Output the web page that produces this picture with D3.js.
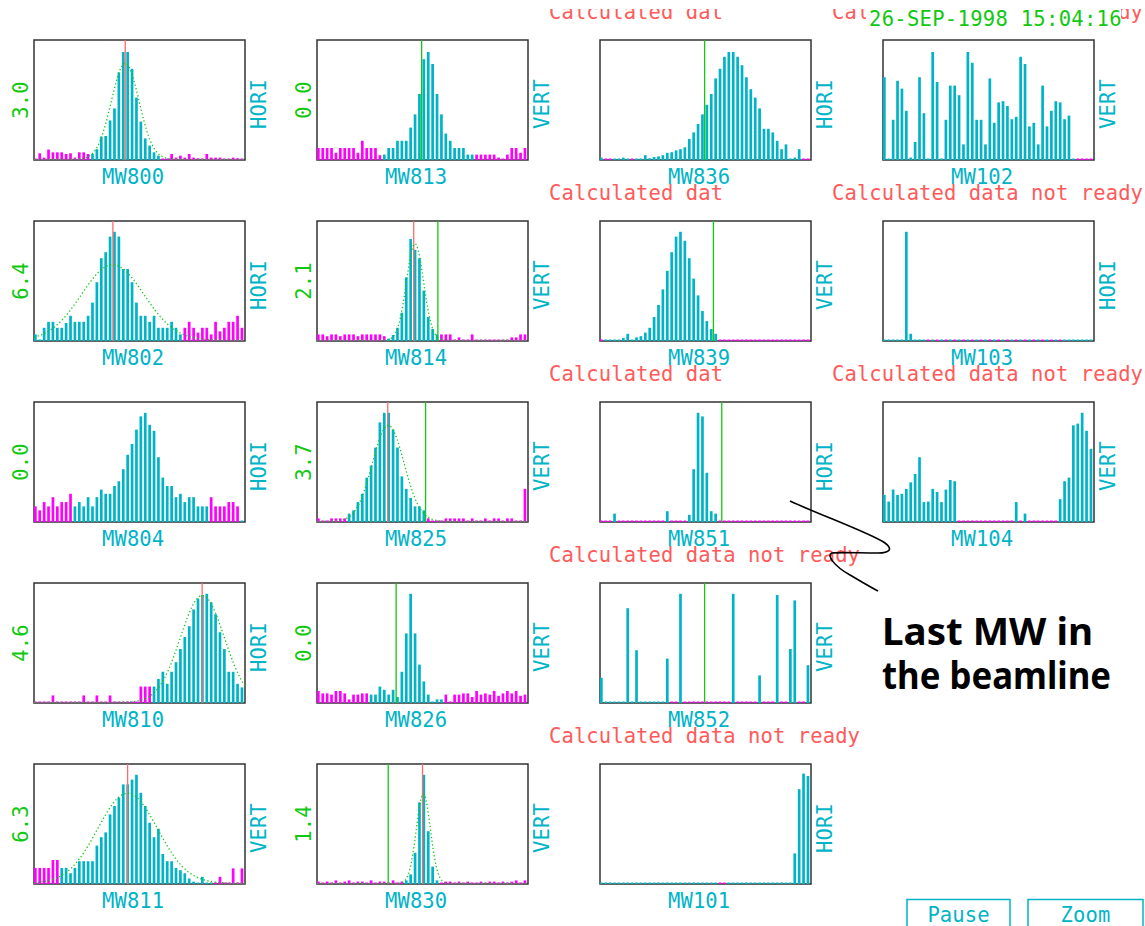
<!DOCTYPE html>
<html>
<head>
<meta charset="utf-8">
<script src="https://cdnjs.cloudflare.com/ajax/libs/d3/7.8.5/d3.min.js"></script>
<style>
  body { margin: 0; background: #fff; }
  svg { display: block; }
  text { font-family: "DejaVu Sans Mono", "Liberation Mono", monospace; font-size: 20.5px; letter-spacing: 0.1px; }
</style>
</head>
<body>
<script>
/* global d3 */
// panels, column by column (5 rows per column)
var names = ["MW800", "MW802", "MW804", "MW810", "MW811",
  "MW813", "MW814", "MW825", "MW826", "MW830",
  "MW836", "MW839", "MW851", "MW852", "MW101",
  "MW102", "MW103", "MW104"];
var planes = ["HORI", "HORI", "HORI", "HORI", "VERT",
  "VERT", "VERT", "VERT", "VERT", "VERT",
  "HORI", "VERT", "HORI", "VERT", "HORI",
  "VERT", "HORI", "VERT"];
var sigmaLabels = ["3.0", "6.4", "0.0", "4.6", "6.3",
  "0.0", "2.1", "3.7", "0.0", "1.4",
  null, null, null, null, null, null, null, null];
var notes = [null, null, null, null, null, null, null, null, null, null,
  "Calculated dat", "Calculated dat", "Calculated dat",
  "Calculated data not ready", "Calculated data not ready",
  "Calculated data not ready", "Calculated data not ready", "Calculated data not ready"];

// wire signals, 48 wires, % of full scale
var mw800 = [0, 5.6, 2, 8.7, 6.4, 6.4, 6.4, 5, 5.6, 2, 6.4, 6.4, 5, 5, 9, 19.5,
  20, 33, 43, 73, 90, 90, 76, 52, 32, 18, 12, 6.4, 3.6, 1, 0, 5,
  2, 3.6, 2, 5, 2, 1.5, 1, 5, 2, 2, 2, 1, 1, 2, 1.5, 1];
var mw802 = [5.5, 0, 11, 16, 16, 11, 11, 15, 21, 16, 16, 16, 21, 32, 49, 69,
  74, 87, 91, 87, 60, 60, 49, 32, 21, 21, 16, 21, 11, 11, 11, 16,
  11, 5.5, 11, 16, 11, 7, 11, 11, 5.5, 16, 8, 11, 16, 16, 21, 11];
var mw804 = [13, 9.7, 16.6, 13, 20.7, 13, 16.6, 16.6, 23.5, 13, 16.6, 13, 20.7, 13, 20.7, 27,
  23.5, 23.5, 30, 34, 44, 56, 65, 77, 88, 91, 81, 76, 54, 37, 30, 30,
  20.7, 23.5, 16.6, 20.7, 20.7, 13, 13, 13, 20.7, 13, 13, 13, 16.6, 16.6, 13, 1];
var mw810 = [0, 0, 0, 0, 6.3, 0, 0, 0, 0, 0, 0, 6.3, 0, 0, 6.3, 0,
  0, 6.3, 0, 0, 0, 0, 0, 0, 13.7, 13.7, 13.7, 13.7, 20, 26, 16, 26,
  34, 45, 55, 64, 78, 87, 90, 91, 84, 74, 59, 45, 26, 26, 16, 13];
var mw811 = [13.4, 13.4, 13.4, 13.4, 20, 20, 13.4, 13.4, 9, 13.4, 19, 19, 19, 19, 32, 39,
  43, 58, 65, 72, 83, 83, 87, 91, 76, 65, 51, 39, 46, 25, 19, 19,
  13.4, 11.5, 9, 4.6, 2, 1, 6, 1, 1, 1, 6, 0, 0, 13, 0, 13];
var mw813 = [10, 10, 10, 10, 6, 10, 10, 10, 10, 6, 16, 10, 10, 10, 4, 4.5,
  10, 10, 16, 16, 16, 27, 38, 55, 84, 90, 80, 55, 38, 22, 16, 10,
  10, 10, 4.5, 4.5, 4.5, 4.5, 4.5, 4.5, 4.5, 2, 0, 4.5, 10, 10, 6, 10];
var mw814 = [5.5, 5.5, 4, 5.5, 5.5, 4, 5.5, 5.5, 5.5, 4, 5.5, 5.5, 5.5, 5.5, 5.5, 4,
  2, 5, 11, 23.6, 53, 85, 76, 69, 42, 20, 10, 5.5, 5.5, 5.5, 5.5, 1,
  3, 1, 1, 5.5, 1, 1, 1, 1, 1, 1, 1, 1, 3, 3, 5.5, 5.5];
var mw825 = [3, 1, 1, 3, 3, 3, 3, 7, 9.7, 16.6, 23.5, 37, 47, 62, 83, 91,
  91, 77, 62, 38, 27.6, 20, 13, 13, 9.7, 3, 1, 1, 1, 3, 3, 3,
  3, 3, 1, 3, 1, 1, 3, 1, 3, 3, 1, 3, 3, 1, 1, 27.6];
var mw826 = [10, 8, 8, 7, 10, 10, 8, 3, 7, 7, 8, 8, 7, 7, 13.7, 11,
  7, 11, 5, 26, 58, 91, 58, 32, 18, 7, 0, 3, 3, 7, 1, 7,
  7, 8, 8, 5, 10, 7, 8, 7, 10, 6, 8, 10, 8, 10, 6, 7];
var mw830 = [2, 1, 2, 1, 3, 1, 2, 3, 1, 2, 2, 1, 3, 1, 2, 2,
  1, 3, 1, 2, 3, 8, 26, 68, 91, 44, 14.5, 3, 1, 2, 2, 1,
  2, 1, 2, 1, 1, 2, 1, 2, 2, 1, 2, 1, 2, 3, 1, 3];
var mw836 = [2, 0, 0, 1, 1, 2, 1, 0, 1, 1, 4, 1.5, 2.5, 3, 4, 6,
  6.5, 8, 9, 10.6, 17.6, 23, 30, 38, 46, 55, 68, 76, 86, 90, 90, 86,
  79, 69, 59, 52, 43, 26, 26, 23, 16, 9, 13, 0, 2, 9, 0, 0];
var mw839 = [0, 0, 0, 0, 0, 2.5, 6, 0, 3, 4, 7, 11, 20, 30, 43, 58.5,
  74, 87, 91, 83.5, 69, 52, 38, 25, 16.6, 10, 6, 0, 0, 0, 0, 0,
  0, 0, 0, 0, 0, 0, 0, 0, 0, 0, 0, 0, 0, 0, 0, 0];
var mw851 = [0, 0, 0, 7, 0, 0, 0, 0, 0, 0, 0, 0, 0, 0, 0, 9,
  0, 0, 0, 0, 6, 44, 91, 88, 41, 9, 7, 0, 0, 0, 0, 0,
  0, 0, 0, 0, 0, 0, 0, 0, 0, 0, 0, 0, 0, 0, 0, 0];
var mw852 = [21, 0, 0, 0, 0, 0, 79, 0, 44, 0, 0, 0, 0, 0, 0, 37,
  0, 0, 91, 0, 0, 0, 0, 0, 0, 0, 0, 0, 0, 0, 91, 0,
  0, 0, 0, 0, 23, 0, 0, 0, 90, 0, 0, 45, 85.5, 0, 0, 31.5];
var mw101 = [0, 0, 0, 0, 0, 0, 0, 0, 0, 0, 0, 0, 0, 0, 0, 0,
  0, 0, 0, 0, 0, 0, 0, 0, 0, 0, 0, 0, 0, 0, 0, 0,
  0, 0, 0, 0, 0, 0, 0, 0, 0, 0, 0, 0, 25.5, 79, 92, 90];
var mw102 = [69, 0, 33.5, 66, 59.5, 41, 2, 15, 69, 39, 0, 90, 65, 0, 33.5, 62,
  62, 54, 13, 90, 81, 33.5, 33.5, 13, 68, 31, 48, 49, 45, 34, 36, 86,
  80, 28, 31, 13, 62, 28, 41, 49, 48, 34, 37, 0, 0, 0, 0, 0];
var mw103 = [0, 0, 0, 0, 0, 91, 6, 0, 0, 0, 0, 0, 0, 0, 0, 0,
  0, 0, 0, 0, 0, 0, 0, 0, 0, 0, 0, 0, 0, 0, 0, 0,
  0, 0, 0, 0, 0, 0, 0, 0, 0, 0, 0, 0, 0, 0, 0, 0];
var mw104 = [22.6, 17, 27, 22.6, 23.5, 27.6, 33, 40, 54, 16.6, 17, 27.6, 25, 16.6, 27, 35,
  34, 0, 0, 0, 0, 0, 0, 0, 0, 0, 0, 0, 0, 0, 16.6, 0,
  7, 0, 0, 0, 0, 0, 0, 0, 19, 34, 37, 80.6, 82, 91, 76, 61];
var signals = [mw800, mw802, mw804, mw810, mw811, mw813, mw814, mw825, mw826, mw830,
  mw836, mw839, mw851, mw852, mw101, mw102, mw103, mw104];

// c = wire used (cyan), m = wire flagged (magenta)
var flags = [
  "mmmmmmmm mmmmmccc cccccccc cccccmmm mmmmmmmm mmmmmmmm",
  "cccccccc cccccccc cccccccc cccccccc ccmmmmmm mmmmmmmm",
  "mmmmmmmm mccccccc cccccccc cccccccc cccccccc mmmmmmmc",
  "mmmmmmmm mmmmmmmm mmmmmmmm mmmccccc cccccccc cccccccc",
  "mmmmmmcc cccccccc cccccccc cccccccc cccccccc cmmmmmmm",
  "mmmmmmmm mmmmmmmc cccccccc cccccccc ccccmmmm mmmmmmmm",
  "mmmmmmmm mmmmmmmm cccccccc ccccmmmm mmmmmmmm mmmmmmmm",
  "mmmmmmmc cccccccc cccccccc cmmmmmmm mmmmmmmm mmmmmmmm",
  "mmmmmmmm mmmmcccc cccccccc cccccmmm mmmmmmmm mmmmmmmm",
  "mmmmmmmm mmmmmmmm mmmmcccc ccccmmmm mmmmmmmm mmmmmmmm",
  "cmmccccm cccccccc cccccccc cccccccc cccccccc ccccccmm",
  "mccccccc cccccccc cccccccc cccmmmmm mmmmmmmm mmmmmmmm",
  "mmmcmmmm mmmmmmmc mmmmcccc cccmmmmm mmmmmmmm mmmmmmmm",
  "cccccccc cccccccc mmcmmmmm mmmmmmcm mmmmcmmm cmmccmmc",
  "cccccccc cccccccc cccccccc cccmmccc cccccccc cccccccc",
  "cccccccc cccccccc cccccccc cccccccc cccccccc ccccmmmm",
  "cccccccc ccmcmcmc mcmcmcmc mcmcmcmc mcmcmcmc mccccccc",
  "cccccccc cccccccc cmmmmmmm mmmmmmcm cmmmmmmm cccccccc"
];

// markers in wire units: red = fitted centre, green = reference
var redMarks = [20.75, 17.95, null, 38.25, 21.3, null, 22.0, 16.1, null, 24.0,
  null, null, null, null, null, null, null, null];
var greenMarks = [null, null, null, null, null, 23.8, 27.5, 24.7, 18.0, 16.2,
  23.8, 25.8, 27.7, 23.8, null, null, null, null];

// gaussian fit (amplitude %, mean wire, sigma wires)
var fitAmp = [80, 63, null, 89, 75, null, 80.5, 80, null, 74.5,
  null, null, null, null, null, null, null, null];
var fitMean = [20.75, 17.9, null, 38.3, 21.3, null, 22.3, 16.2, null, 24.2,
  null, null, null, null, null, null, null, null];
var fitSigma = [3.15, 7.1, null, 5.0, 6.8, null, 1.95, 3.6, null, 1.6,
  null, null, null, null, null, null, null, null];

var stamp = "26-SEP-1998 15:04:16";
var buttons = ["Pause", "Zoom"];
var remark = ["Last MW in", "the beamline"];

(function () {
  "use strict";
  var width = 1145, height = 926,
    wires = 48,
    colLeft = [34, 317, 600, 883], rowTop = [40, 221, 402, 583, 764],
    boxW = 211, boxH = 120, barW = 2.7,
    cyan = "#00b4c8", magenta = "#ff00ff", green = "#12c812",
    redText = "#ff5a5a", redLine = "#ff6a6a",
    svg, noteLayer;

  svg = d3.select("body").append("svg")
    .attr("width", width)
    .attr("height", height);

  svg.append("rect")
    .attr("width", width)
    .attr("height", height)
    .attr("fill", "#fff");

  svg.append("defs").append("clipPath")
    .attr("id", "topcut")
    .append("rect")
    .attr("x", 0).attr("y", 9)
    .attr("width", width).attr("height", height);

  names.forEach(function (name, k) {
    var col = Math.floor(k / 5), row = k % 5,
      left = colLeft[col], top = rowTop[row],
      x = d3.scaleLinear().domain([0, wires]).range([left, left + boxW]),
      y = d3.scaleLinear().domain([0, 100]).range([top + boxH, top]),
      mask = flags[k].replace(/ /g, ""),
      g = svg.append("g").attr("class", "panel");

    g.append("rect")
      .attr("x", left).attr("y", top)
      .attr("width", boxW).attr("height", boxH)
      .attr("fill", "#fff")
      .attr("stroke", "#333")
      .attr("stroke-width", 1.5);

    g.selectAll(".bar")
      .data(signals[k])
      .enter().append("rect")
      .attr("class", "bar")
      .attr("x", function (d, i) { return x(i); })
      .attr("width", barW)
      .attr("y", function (d) { return Math.min(y(d), y(0) - 1.5); })
      .attr("height", function (d) { return Math.max(y(0) - y(d), 1.5); })
      .attr("fill", function (d, i) { return mask[i] === "m" ? magenta : cyan; });

    if (redMarks[k] !== null) {
      g.append("line")
        .attr("x1", x(redMarks[k])).attr("x2", x(redMarks[k]))
        .attr("y1", top).attr("y2", top + boxH)
        .attr("stroke", redLine).attr("stroke-width", 1.3);
    }
    if (greenMarks[k] !== null) {
      g.append("line")
        .attr("x1", x(greenMarks[k])).attr("x2", x(greenMarks[k]))
        .attr("y1", top).attr("y2", top + boxH)
        .attr("stroke", green).attr("stroke-width", 1.3);
    }

    if (fitAmp[k] !== null) {
      var pts = d3.range(0, wires + 0.01, 0.25).map(function (w) {
        var z = (w - fitMean[k]) / fitSigma[k];
        return [w, fitAmp[k] * Math.exp(-0.5 * z * z)];
      });
      g.append("path")
        .datum(pts)
        .attr("fill", "none")
        .attr("stroke", green)
        .attr("stroke-width", 1.3)
        .attr("stroke-dasharray", "1.3,2.4")
        .attr("d", d3.line()
          .x(function (d) { return x(d[0]); })
          .y(function (d) { return y(d[1]) - 0.7; }));
    }

    g.append("text")
      .attr("x", left + 68)
      .attr("y", top + boxH + 24)
      .attr("fill", cyan)
      .text(name);

    g.append("text")
      .attr("transform", "translate(" + (left + boxW + 20.5) + "," + (top + 64) + ") rotate(-90)")
      .attr("text-anchor", "middle")
      .attr("fill", cyan)
      .text(planes[k]);

    if (sigmaLabels[k] !== null) {
      g.append("text")
        .attr("transform", "translate(" + (left - 6) + "," + (top + 60) + ") rotate(-90)")
        .attr("text-anchor", "middle")
        .attr("fill", green)
        .text(sigmaLabels[k]);
    }
  });

  // status lines above the right-hand panels
  noteLayer = svg.append("g").attr("clip-path", "url(#topcut)");
  names.forEach(function (name, k) {
    if (!notes[k]) { return; }
    var col = Math.floor(k / 5), row = k % 5;
    noteLayer.append("text")
      .attr("x", colLeft[col] - 51)
      .attr("y", rowTop[row] - 21)
      .attr("fill", redText)
      .text(notes[k]);
  });

  svg.append("rect")
    .attr("x", 866).attr("y", 0)
    .attr("width", 255).attr("height", 30)
    .attr("fill", "#fff");
  svg.append("text")
    .attr("x", 869).attr("y", 26)
    .attr("fill", green)
    .style("letter-spacing", "0.3px")
    .text(stamp);

  // buttons
  var btnX = [907, 1028], btnW = [103, 115];
  buttons.forEach(function (b, i) {
    svg.append("rect")
      .attr("x", btnX[i]).attr("y", 899.5)
      .attr("width", btnW[i]).attr("height", 30)
      .attr("fill", "none")
      .attr("stroke", cyan)
      .attr("stroke-width", 1.5);
    svg.append("text")
      .attr("x", btnX[i] + btnW[i] / 2)
      .attr("y", 922)
      .attr("text-anchor", "middle")
      .attr("fill", cyan)
      .text(b);
  });

  // hand drawn remark
  svg.append("path")
    .attr("d", "M790,501 C820,515 870,533 885,543 C893,549 890,553 878,553 " +
      "C860,553 840,552 832,553 C826,555 834,566 850,575 C862,582 872,588 878,591")
    .attr("fill", "none")
    .attr("stroke", "#000")
    .attr("stroke-width", 1.6);

  var remarkLen = [211, 229];
  remark.forEach(function (line, i) {
    svg.append("text")
      .attr("x", 882)
      .attr("y", 645 + i * 44)
      .attr("textLength", remarkLen[i])
      .attr("lengthAdjust", "spacingAndGlyphs")
      .style("font-family", "'Comic Sans MS', 'Noto Sans', 'DejaVu Sans', sans-serif")
      .style("font-weight", "bold")
      .style("font-size", "37px")
      .style("letter-spacing", "0px")
      .attr("fill", "#000")
      .text(line);
  });
})();
</script>
</body>
</html>
